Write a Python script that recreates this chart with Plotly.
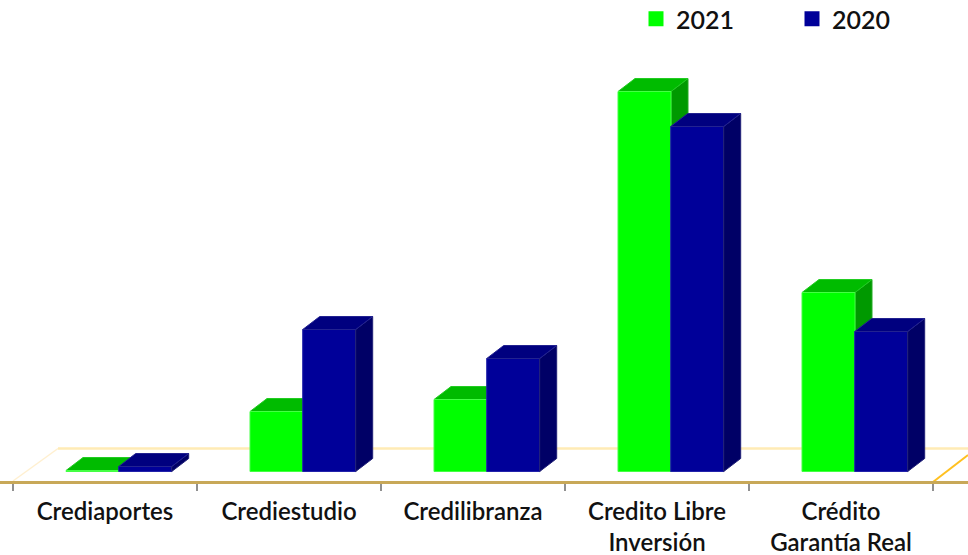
import plotly.graph_objects as go

categories = ["Crediaportes", "Crediestudio", "Credilibranza", "Credito Libre<br>Inversión", "Crédito<br>Garantía Real"]
values_2021 = [1, 60, 72, 380, 179]
values_2020 = [5, 142, 113, 345, 140]

W, H = 968, 555
PITCH = 184.0
X0 = 105.0
BASE = 471.5
DX = 17 / PITCH
DY = 13
BAR_W = 53 / PITCH
OFF_G = -39 / PITCH
OFF_B = 13.7 / PITCH
xr = [-X0 / PITCH, (W - X0) / PITCH]
yr = [-(H - BASE), BASE]
idx = list(range(len(categories)))


def top_face(vals, off):
    xs, ys = [], []
    for i, v in zip(idx, vals):
        a, b = i + off, i + off + BAR_W
        xs += [a, b, b + DX, a + DX, a, None]
        ys += [v, v, v + DY, v + DY, v, None]
    return xs, ys


def side_face(vals, off):
    xs, ys = [], []
    for i, v in zip(idx, vals):
        b = i + off + BAR_W
        xs += [b, b + DX, b + DX, b, b, None]
        ys += [0, DY, v + DY, v, 0, None]
    return xs, ys


def face(xs, ys, fill, edge, axis):
    return go.Scatter(x=xs, y=ys, xaxis=axis, yaxis="y", mode="lines", fill="toself",
                      fillcolor=fill, line=dict(color=edge, width=1), hoverinfo="skip", showlegend=False)


fig = go.Figure()
fig.add_trace(face(*side_face(values_2021, OFF_G), "#009900", "#22aa22", "x"))
fig.add_trace(face(*top_face(values_2021, OFF_G), "#00BB00", "#22cc22", "x"))
fig.add_trace(go.Bar(x=idx, y=values_2021, xaxis="x2", yaxis="y", width=BAR_W, offset=OFF_G,
                     marker=dict(color="#00FF00", line=dict(color="#44ff44", width=1)), showlegend=False))
fig.add_trace(go.Bar(x=idx, y=values_2020, xaxis="x2", yaxis="y", width=BAR_W, offset=OFF_B,
                     marker=dict(color="#000099", line=dict(color="#2222aa", width=1)), showlegend=False))
fig.add_trace(face(*side_face(values_2020, OFF_B), "#000066", "#222277", "x2"))
fig.add_trace(face(*top_face(values_2020, OFF_B), "#00007F", "#222290", "x2"))
fig.add_trace(go.Scatter(x=[None], y=[None], name="2021", mode="markers",
                         marker=dict(symbol="square", size=15, color="#00FF00")))
fig.add_trace(go.Scatter(x=[None], y=[None], name="2020", mode="markers",
                         marker=dict(symbol="square", size=15, color="#000099")))


def px(x):
    return x / W


def py(y):
    return 1 - y / H


def seg(x0, y0, x1, y1, color, width):
    return dict(type="line", xref="paper", yref="paper", x0=px(x0), y0=py(y0), x1=px(x1), y1=py(y1),
                line=dict(color=color, width=width), layer="below")


fig.update_layout(
    width=W, height=H, margin=dict(l=0, r=0, t=0, b=0, autoexpand=False),
    paper_bgcolor="white", plot_bgcolor="white",
    font=dict(family="Lato", size=24, color="#111111", weight=600),
    barmode="overlay",
    shapes=[
        seg(58, 448.5, 968, 448.5, "#FFEBB5", 2.5),
        seg(13, 481, 58, 448.5, "#FFF0D0", 1.5),
        seg(933, 482, 968, 455, "#FFC020", 2),
    ],
    xaxis=dict(
        range=xr, domain=[0, 1], anchor="free", position=(H - 482) / H, automargin=False,
        tickmode="array", tickvals=idx, ticktext=categories,
        showline=True, linecolor="#C8A858", linewidth=2.5, showgrid=False, zeroline=False,
        ticks="outside", ticklen=7, tickcolor="rgba(0,0,0,0)",
        tickangle=0,
        minor=dict(tickmode="array", tickvals=[i - 0.5 for i in range(len(categories) + 1)],
                   ticks="outside", ticklen=7, tickwidth=2, tickcolor="#909090", showgrid=False),
    ),
    xaxis2=dict(range=xr, overlaying="x", visible=False, anchor="y"),
    yaxis=dict(range=yr, domain=[0, 1], visible=False),
    legend=dict(orientation="h", x=636 / W, y=1 + 4 / H, xanchor="left", yanchor="top",
                entrywidth=111, entrywidthmode="pixels", font=dict(size=25),
                bgcolor="rgba(0,0,0,0)", traceorder="normal"),
)
fig.write_html("out.html", config={"displayModeBar": False})
page = open("out.html", encoding="utf-8").read()
page = page.replace("<body>", '<body style="margin:0;overflow:hidden">', 1)
open("out.html", "w", encoding="utf-8").write(page)
